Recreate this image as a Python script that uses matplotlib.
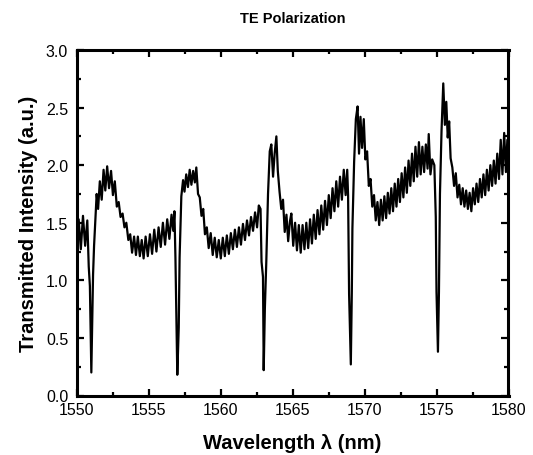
import matplotlib
matplotlib.use("Agg")
import matplotlib.pyplot as plt
from matplotlib.ticker import MultipleLocator

plt.rcParams['font.family'] = ['Liberation Sans', 'DejaVu Sans']

wavelength = [
    1550.00, 1550.15, 1550.30, 1550.45, 1550.60, 1550.75, 1550.85, 1550.93, 1551.00, 1551.03,
    1551.08, 1551.15, 1551.22, 1551.30, 1551.40, 1551.50, 1551.62, 1551.75, 1551.88, 1552.00,
    1552.13, 1552.26, 1552.40, 1552.53, 1552.66, 1552.80, 1552.93, 1553.06, 1553.20, 1553.33,
    1553.46, 1553.60, 1553.73, 1553.86, 1554.00, 1554.13, 1554.26, 1554.40, 1554.53, 1554.66,
    1554.80, 1554.95, 1555.10, 1555.25, 1555.40, 1555.55, 1555.70, 1555.85, 1556.00, 1556.15,
    1556.30, 1556.45, 1556.60, 1556.72, 1556.80, 1556.87, 1556.91, 1557.00, 1557.10, 1557.16,
    1557.28, 1557.40, 1557.50, 1557.62, 1557.74, 1557.86, 1557.98, 1558.10, 1558.22, 1558.32,
    1558.44, 1558.56, 1558.68, 1558.80, 1558.92, 1559.05, 1559.18, 1559.32, 1559.46, 1559.60,
    1559.74, 1559.88, 1560.02, 1560.16, 1560.30, 1560.44, 1560.58, 1560.72, 1560.86, 1561.00,
    1561.14, 1561.28, 1561.42, 1561.56, 1561.70, 1561.84, 1561.98, 1562.12, 1562.26, 1562.40,
    1562.54, 1562.66, 1562.78, 1562.85, 1562.95, 1563.00, 1563.08, 1563.18, 1563.30, 1563.42,
    1563.53, 1563.65, 1563.76, 1563.88, 1563.98, 1564.10, 1564.22, 1564.34, 1564.46, 1564.58,
    1564.70, 1564.82, 1564.92, 1565.05, 1565.18, 1565.31, 1565.44, 1565.57, 1565.70, 1565.83,
    1565.96, 1566.09, 1566.22, 1566.35, 1566.48, 1566.61, 1566.74, 1566.87, 1567.00, 1567.13,
    1567.26, 1567.39, 1567.52, 1567.65, 1567.78, 1567.91, 1568.04, 1568.17, 1568.30, 1568.43,
    1568.56, 1568.69, 1568.80, 1568.86, 1568.93, 1569.05, 1569.12, 1569.16, 1569.28, 1569.40,
    1569.52, 1569.62, 1569.72, 1569.83, 1569.95, 1570.06, 1570.18, 1570.30, 1570.42, 1570.54,
    1570.66, 1570.78, 1570.90, 1571.02, 1571.14, 1571.26, 1571.38, 1571.50, 1571.62, 1571.74,
    1571.86, 1571.98, 1572.10, 1572.22, 1572.34, 1572.46, 1572.58, 1572.70, 1572.82, 1572.94,
    1573.06, 1573.18, 1573.30, 1573.42, 1573.54, 1573.66, 1573.78, 1573.90, 1574.02, 1574.14,
    1574.26, 1574.38, 1574.46, 1574.58, 1574.70, 1574.85, 1574.95, 1575.00, 1575.10, 1575.17,
    1575.24, 1575.35, 1575.47, 1575.58, 1575.68, 1575.78, 1575.88, 1575.98, 1576.10, 1576.22,
    1576.34, 1576.46, 1576.58, 1576.70, 1576.82, 1576.94, 1577.06, 1577.18, 1577.30, 1577.42,
    1577.54, 1577.66, 1577.78, 1577.90, 1578.02, 1578.14, 1578.26, 1578.38, 1578.50, 1578.62,
    1578.74, 1578.86, 1578.98, 1579.10, 1579.22, 1579.34, 1579.46, 1579.58, 1579.70, 1579.82,
    1579.92, 1580.00,
]

intensity = [
    1.32, 1.53, 1.27, 1.56, 1.30, 1.52, 1.12, 0.95, 0.40, 0.20,
    0.55, 1.05, 1.30, 1.50, 1.75, 1.62, 1.86, 1.70, 1.96, 1.78,
    1.99, 1.80, 1.95, 1.74, 1.86, 1.64, 1.68, 1.55, 1.58, 1.46,
    1.50, 1.35, 1.40, 1.24, 1.38, 1.22, 1.38, 1.21, 1.35, 1.19,
    1.38, 1.21, 1.40, 1.23, 1.44, 1.25, 1.46, 1.29, 1.50, 1.31,
    1.53, 1.36, 1.57, 1.43, 1.60, 1.20, 0.90, 0.18, 0.59, 1.20,
    1.73, 1.87, 1.77, 1.92, 1.81, 1.96, 1.83, 1.95, 1.85, 1.98,
    1.75, 1.72, 1.56, 1.62, 1.40, 1.46, 1.28, 1.41, 1.22, 1.37,
    1.20, 1.35, 1.19, 1.37, 1.21, 1.39, 1.23, 1.41, 1.27, 1.44,
    1.29, 1.46, 1.31, 1.49, 1.35, 1.52, 1.39, 1.55, 1.43, 1.59,
    1.46, 1.65, 1.62, 1.16, 1.03, 0.22, 0.75, 1.16, 1.75, 2.12,
    2.18, 1.90, 2.10, 2.25, 1.95, 1.77, 1.62, 1.70, 1.42, 1.57,
    1.34, 1.51, 1.58, 1.30, 1.50, 1.26, 1.48, 1.24, 1.48, 1.27,
    1.50, 1.28, 1.53, 1.32, 1.57, 1.36, 1.61, 1.40, 1.65, 1.44,
    1.69, 1.48, 1.74, 1.54, 1.80, 1.60, 1.86, 1.64, 1.90, 1.70,
    1.96, 1.74, 1.96, 1.74, 0.88, 0.27, 0.90, 1.45, 2.03, 2.40,
    2.51, 2.10, 2.42, 2.15, 2.40, 2.05, 2.12, 1.82, 1.88, 1.64,
    1.74, 1.52, 1.68, 1.48, 1.70, 1.52, 1.73, 1.54, 1.76, 1.58,
    1.80, 1.60, 1.84, 1.64, 1.88, 1.68, 1.93, 1.72, 1.98, 1.76,
    2.04, 1.82, 2.10, 1.86, 2.16, 1.90, 2.20, 1.92, 2.16, 1.94,
    2.18, 1.97, 2.27, 1.92, 2.05, 2.00, 1.55, 0.90, 0.38, 0.90,
    1.75, 2.30, 2.71, 2.35, 2.55, 2.24, 2.38, 2.06, 1.98, 1.82,
    1.93, 1.72, 1.83, 1.66, 1.80, 1.64, 1.78, 1.62, 1.76, 1.60,
    1.80, 1.66, 1.84, 1.68, 1.88, 1.72, 1.92, 1.74, 1.96, 1.78,
    2.00, 1.82, 2.04, 1.84, 2.10, 1.88, 2.22, 1.92, 2.28, 1.94,
    2.22, 1.97,
]

x_ticks = [1550, 1555, 1560, 1565, 1570, 1575, 1580]
y_ticks = [0.0, 0.5, 1.0, 1.5, 2.0, 2.5, 3.0]

fig = plt.figure(figsize=(5.33, 4.56), dpi=100)
ax = fig.add_axes([76.5 / 533, 1 - 396.5 / 456, 432 / 533, 345.5 / 456])

ax.plot(wavelength, intensity, color='black', linewidth=1.6, solid_joinstyle='round')

ax.set_xlim(1550, 1580)
ax.set_ylim(0, 3.0)
ax.set_xticks(x_ticks)
ax.set_yticks(y_ticks)
ax.set_yticklabels([f"{v:.1f}" for v in y_ticks])
ax.xaxis.set_minor_locator(MultipleLocator(2.5))
ax.yaxis.set_minor_locator(MultipleLocator(0.25))

ax.tick_params(which='both', direction='in', top=True, right=True, width=1.6,
               labelsize=11.5)
ax.tick_params(axis='x', pad=5)
ax.tick_params(axis='y', pad=6)
ax.tick_params(which='major', length=5)
ax.tick_params(which='minor', length=3)
for s in ax.spines.values():
    s.set_linewidth(2.2)

ax.set_title("TE Polarization", fontsize=10.5, fontweight='bold', pad=20)
ax.set_xlabel("Wavelength λ (nm)", fontsize=14.5, fontweight='bold', labelpad=11)
ax.set_ylabel("Transmitted Intensity (a.u.)", fontsize=14.5, fontweight='bold', labelpad=6)

fig.savefig("out.png", dpi=100)
